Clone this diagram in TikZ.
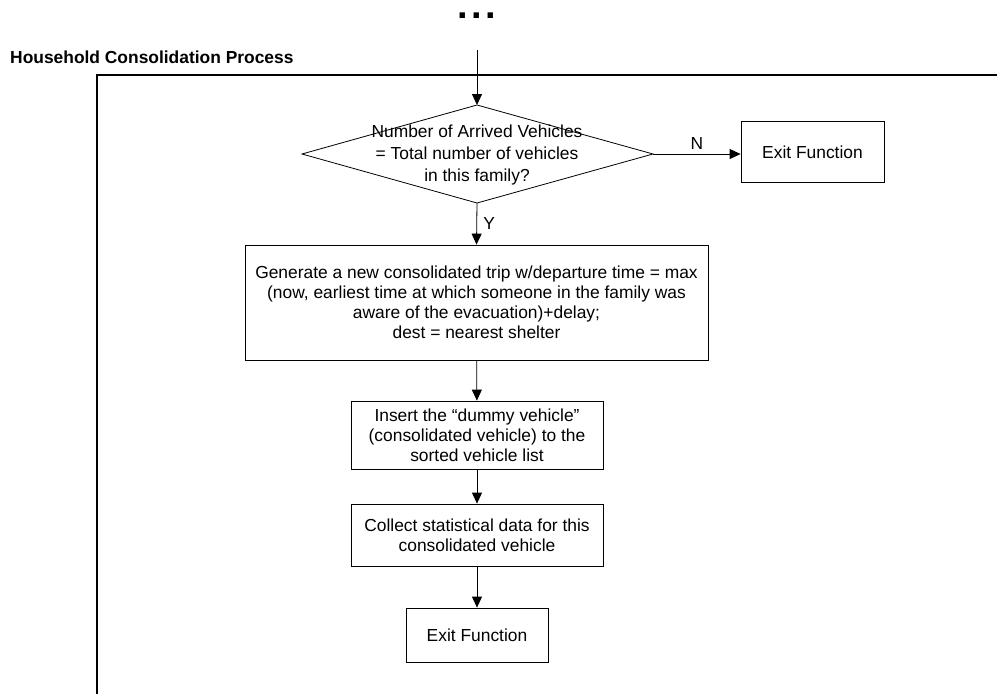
\documentclass[tikz,border=0pt]{standalone}
\usepackage{fontspec}
\setmainfont{Liberation Sans}
\usetikzlibrary{arrows.meta}
\tikzset{
  every picture/.style={x=1pt,y=-1pt},
  stepbox/.style={draw,line width=0.8pt,align=center,inner sep=2pt,
    font=\fontsize{17.4}{20}\selectfont},
  flow/.style={line width=0.8pt,-{Triangle[length=11pt,width=10pt]}},
  lbl/.style={font=\fontsize{17.4}{20}\selectfont},
}
\begin{document}
\begin{tikzpicture}
\useasboundingbox (0,0) rectangle (997,694);
% frame of the process lane
\draw[line width=1.3pt] (997,75) -- (97,75) -- (97,694);
\node[anchor=base west,inner sep=0pt,font=\bfseries\fontsize{17.4}{20}\selectfont] (title) at (10,63) {Household Consolidation Process};
\node[anchor=base,inner sep=0pt,font=\bfseries\fontsize{38}{40}\selectfont] (dots) at (477,18) {.\kern3.3pt.\kern3.3pt.};
\coordinate (entry) at (477,50);
% decision
\coordinate (dtop) at (477,105);
\coordinate (dbot) at (477,203);
\coordinate (dleft) at (302,154);
\coordinate (dright) at (653,154);
\draw[line width=0.8pt] (dtop) -- (dright) -- (dbot) -- (dleft) -- cycle;
\node[align=center,font=\fontsize{17.4}{21.7}\selectfont] (dtext) at (477,155)
  {Number of Arrived Vehicles\\= Total number of vehicles\\in this family?};
% steps
\node[stepbox,minimum width=143pt,minimum height=61pt] (exit1) at (812.5,152) {Exit Function};
\node[stepbox,minimum width=463pt,minimum height=115pt] (gen) at (476.5,302.5)
  {Generate a new consolidated trip w/departure time = max\\(now, earliest time at which someone in the family was\\aware of the evacuation)+delay;\\dest = nearest shelter};
\node[stepbox,minimum width=252pt,minimum height=68pt] (ins) at (477,435)
  {Insert the “dummy vehicle”\\(consolidated vehicle) to the\\sorted vehicle list};
\node[stepbox,minimum width=252pt,minimum height=62pt] (col) at (477,535)
  {Collect statistical data for this\\consolidated vehicle};
\node[stepbox,minimum width=142pt,minimum height=54pt] (exit2) at (477,635) {Exit Function};
% connectors
\draw[flow] (entry) -- (dtop);
\draw[flow] (dright) -- node[lbl,above=1pt] {N} (dright -| exit1.west);
\draw[flow] (dbot) -- node[lbl,right=3pt] {Y} (gen.north);
\draw[flow] (gen) -- (ins);
\draw[flow] (ins) -- (col);
\draw[flow] (col) -- (exit2);
\end{tikzpicture}
\end{document}
